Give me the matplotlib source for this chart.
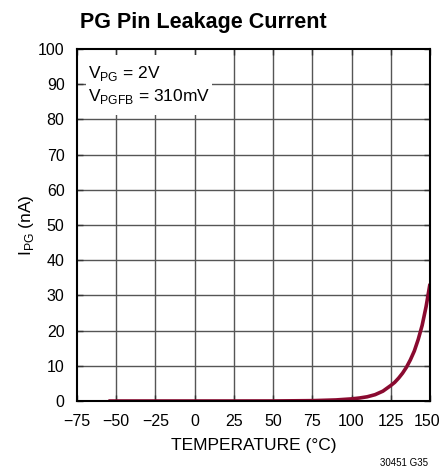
import numpy as np
import matplotlib.pyplot as plt
import matplotlib.transforms as mtransforms
from matplotlib.patches import Rectangle

# leakage current
temp_c = [-55, -25, 0, 25, 50, 75, 90, 100, 105, 110, 115, 120, 125,
          127.5, 130, 132.5, 135, 137.5, 140, 142.5, 145, 147.5, 150]
i_pg_na = [0, 0, 0, 0, 0.01, 0.1, 0.3, 0.6, 0.85, 1.2, 1.8, 2.8, 4.4,
           5.3, 6.5, 7.9, 9.6, 11.7, 14.2, 17.5, 21.5, 26.8, 33.3]

x_ticks = [-75, -50, -25, 0, 25, 50, 75, 100, 125, 150]
y_ticks = [0, 10, 20, 30, 40, 50, 60, 70, 80, 90, 100]

FONT = ['Liberation Sans', 'DejaVu Sans']
plt.rcParams['font.family'] = FONT
plt.rcParams['mathtext.fontset'] = 'custom'
plt.rcParams['mathtext.rm'] = 'Liberation Sans'
plt.rcParams['axes.unicode_minus'] = True


def main():
    fig = plt.figure(figsize=(4.42, 4.71), dpi=100)
    ax = fig.add_axes([77 / 442, 1 - 401 / 471, 353 / 442, 352 / 471])

    # grid drawn by hand so the label box can sit on top of it
    for xt in x_ticks[1:-1]:
        ax.axvline(xt, color="#555555", lw=1.0, zorder=1)
    for yt in y_ticks[1:-1]:
        ax.axhline(yt, color="#555555", lw=1.0, zorder=1)

    ax.add_patch(Rectangle((0.026, 0.813), 0.357, 0.170, transform=ax.transAxes,
                           facecolor="white", edgecolor="none", zorder=2))

    ax.plot(temp_c, i_pg_na, color="#8a0a30", lw=2.6, zorder=3,
            solid_capstyle="butt", solid_joinstyle="round")

    ax.set_xlim(-75, 150)
    ax.set_ylim(0, 100)
    ax.set_xticks(x_ticks)
    ax.set_yticks(y_ticks)
    ax.set_xticklabels([f"{v}".replace("-", "\u2212") for v in x_ticks])
    ax.tick_params(direction="in", length=4, width=1, labelsize=11.5, pad=9,
                   top=True, right=True, color="#333333")
    for s in ax.spines.values():
        s.set_linewidth(1.5)
        s.set_zorder(4)

    # last label sits right at the figure edge, nudge it in a little
    last = ax.get_xticklabels()[-1]
    last.set_transform(last.get_transform() +
                       mtransforms.ScaledTranslation(-3 / 100, 0, fig.dpi_scale_trans))

    ax.set_xlabel("TEMPERATURE (°C)", fontsize=12.5, labelpad=6.5)
    ax.set_ylabel(r"I$_\mathrm{PG}$ (nA)", fontsize=12.5, labelpad=1)

    ax.text(0.03, 0.917, r"V$_\mathrm{PG}$ = 2V", transform=ax.transAxes,
            fontsize=12.5, va="baseline", zorder=5)
    ax.text(0.03, 0.852, r"V$_\mathrm{PGFB}$ = 310mV", transform=ax.transAxes,
            fontsize=12.5, va="baseline", zorder=5)

    fig.text(80 / 442, 1 - 28 / 471, "PG Pin Leakage Current", fontsize=15.5,
             fontweight="bold", va="baseline")
    fig.text(428 / 442, 1 - 466 / 471, "30451 G35", fontsize=7, ha="right",
             va="baseline")

    fig.savefig("out.png", dpi=100)


if __name__ == "__main__":
    main()
